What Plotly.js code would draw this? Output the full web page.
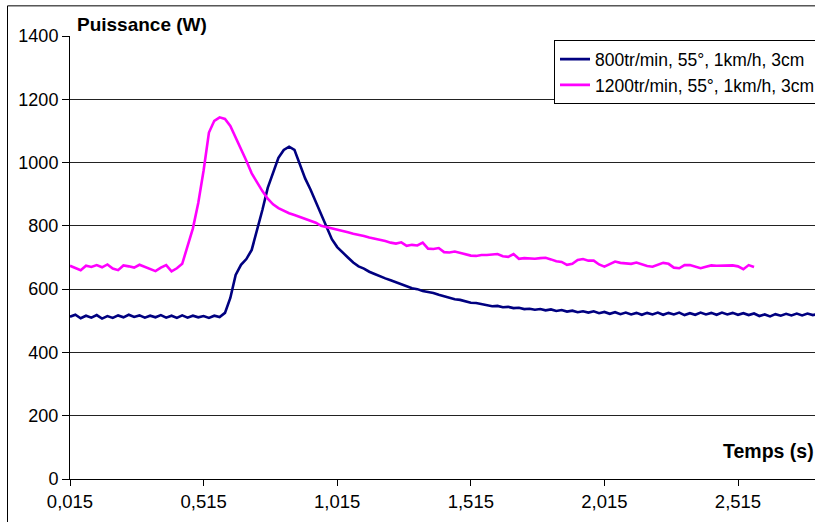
<!DOCTYPE html>
<html><head><meta charset="utf-8">
<script src="https://cdn.plot.ly/plotly-3.0.1.min.js"></script>
<style>html,body{margin:0;padding:0;overflow:hidden;background:#fff;width:815px;height:522px}#chart{width:880px;height:522px}</style>
</head><body><div id="chart"></div><script>
const seriesNames = ["800tr/min, 55°, 1km/h, 3cm", "1200tr/min, 55°, 1km/h, 3cm"];
const timeStart = 0.015;
const timeStep = 0.02;
const power800 = [
513,519,508,516,510,518,507,515,509,517,
511,519,512,517,510,516,511,518,510,516,
509,517,510,516,511,515,509,516,512,525,
572,645,677,695,724,785,850,920,968,1015,
1040,1050,1040,995,950,915,875,832,795,758,
733,718,700,684,672,665,655,648,640,634,
628,622,616,608,603,600,594,591,588,582,
577,574,568,566,561,557,556,552,550,546,
547,543,544,540,541,537,538,535,537,533,
536,531,534,529,532,527,530,526,530,524,
528,522,527,521,526,520,525,519,525,520,
526,519,525,520,526,518,524,519,526,520,
525,519,526,520,525,519,524,518,523,515,
520,514,521,516,522,517,523,517,523,518,
522
];
const power1200 = [
674,668,660,674,670,676,669,678,665,660,
675,672,668,677,670,664,657,668,676,656,
666,680,735,792,872,975,1095,1132,1143,1138,
1116,1080,1040,1006,966,937,910,886,868,856,
847,840,834,828,822,815,810,800,796,792,
788,786,780,775,772,768,763,760,755,752,
747,744,748,737,740,738,747,728,727,730,
717,716,719,714,711,706,705,708,708,710,
711,704,702,711,696,698,697,696,698,699,
694,688,686,677,680,692,695,690,690,678,
671,680,687,683,681,680,684,678,673,671,
678,683,680,668,666,676,676,670,666,671,
675,674,674,673,675,672,663,676,670
];
const xTickVals = [0.015, 0.515, 1.015, 1.515, 2.015, 2.515];
const xTickText = ["0,015", "0,515", "1,015", "1,515", "2,015", "2,515"];
const yTickVals = [0, 200, 400, 600, 800, 1000, 1200, 1400];
const yTitle = "Puissance (W)";
const xTitle = "Temps (s)";

const FW = 880, FH = 522, ML = 70, MR = 0, MT = 35.7, MB = 42.5;
const PW = FW - ML - MR, PH = FH - MT - MB;
const px = x => (x - ML) / PW;
const py = y => (FH - MB - y) / PH;
const xEnd = 0.015 + PW / 267.2;

const font = "Liberation Sans, Arial, sans-serif";

const traces = [
  {x0: timeStart, dx: timeStep, y: power800, type: "scatter", mode: "lines", name: seriesNames[0],
   line: {color: "#000080", width: 2.6}},
  {x0: timeStart, dx: timeStep, y: power1200, type: "scatter", mode: "lines", name: seriesNames[1],
   line: {color: "#FF00FF", width: 2.6}}
];

const layout = {
  width: FW, height: FH,
  margin: {l: ML, r: MR, t: MT, b: MB, pad: 0},
  paper_bgcolor: "#fff", plot_bgcolor: "#fff",
  font: {family: font, color: "#000", size: 17},
  showlegend: true,
  legend: {x: px(554), y: py(40), xanchor: "left", yanchor: "top",
    bgcolor: "#fff", bordercolor: "#000", borderwidth: 1,
    font: {family: font, size: 17.5, color: "#000"}, itemwidth: 30},
  xaxis: {range: [0.015, xEnd], tickmode: "array", tickvals: xTickVals, ticktext: xTickText,
    ticks: "outside", ticklen: 6, tickcolor: "#000", tickwidth: 1,
    showgrid: false, zeroline: false, showline: true, linecolor: "#000", linewidth: 1,
    tickfont: {family: font, size: 18.5, color: "#000"}, fixedrange: true},
  yaxis: {range: [0, 1400], tickmode: "array", tickvals: yTickVals,
    ticks: "outside", ticklen: 7, tickcolor: "#000", tickwidth: 1,
    showgrid: true, gridcolor: "#222", gridwidth: 1, zeroline: false,
    showline: true, linecolor: "#000", linewidth: 1,
    tickfont: {family: font, size: 18, color: "#000"}, fixedrange: true},
  shapes: [
    {type: "line", xref: "paper", yref: "paper", x0: px(7.5), x1: px(7.5), y0: py(540), y1: py(5.5), line: {color: "#000", width: 1}},
    {type: "line", xref: "paper", yref: "paper", x0: px(7.5), x1: px(900), y0: py(5.5), y1: py(5.5), line: {color: "#000", width: 1}}
  ],
  annotations: [
    {text: "<b>" + yTitle + "</b>", xref: "paper", yref: "paper", x: px(75), y: py(24), xanchor: "left", yanchor: "middle",
     showarrow: false, font: {family: font, size: 19, color: "#000"}},
    {text: "<b>" + xTitle + "</b>", xref: "paper", yref: "paper", x: px(721), y: py(451.5), xanchor: "left", yanchor: "middle",
     showarrow: false, font: {family: font, size: 19.5, color: "#000"}}
  ]
};

Plotly.newPlot("chart", traces, layout, {displayModeBar: false, staticPlot: true});
</script></body></html>
